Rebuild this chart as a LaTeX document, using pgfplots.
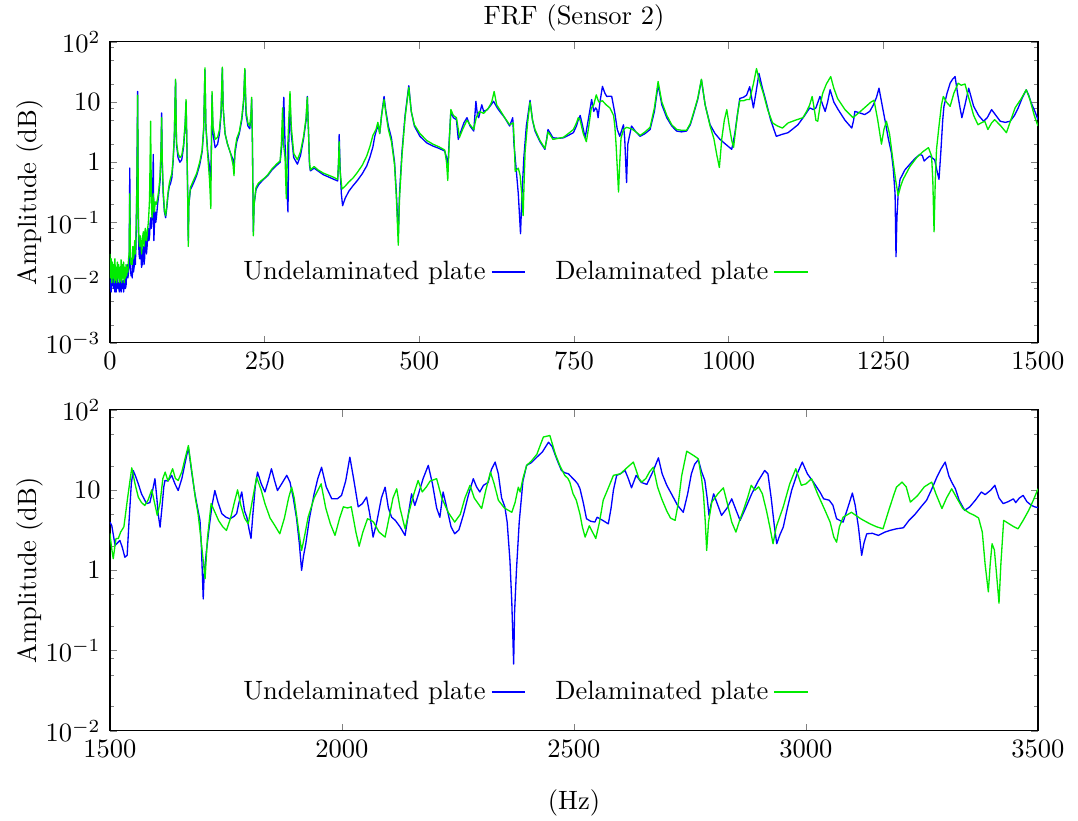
\documentclass[border=0pt]{standalone}
\usepackage{pgfplots}
\pgfplotsset{compat=1.18}
\definecolor{cb}{RGB}{0,0,255}
\definecolor{cg}{RGB}{0,235,0}
\pgfplotsset{
  frf/.style={
    scale only axis, width=350.2pt,
    tick align=inside, xtick pos=both, ytick pos=both,
    major tick length=2.6pt, minor tick length=1.5pt,
    /pgf/number format/1000 sep={},
    every axis plot/.append style={line width=0.5pt, line join=round},
    every axis y label/.style={at={(axis description cs:-0.0862,0.5)},rotate=90,anchor=center},
    every axis x label/.style={at={(axis description cs:0.5,0)},yshift=-27.2pt,anchor=center},
    every axis title/.style={at={(axis description cs:0.5,1)},yshift=9pt,anchor=center},
    ylabel={Amplitude (dB)},
    legend plot pos=right,
    legend cell align=right,
    legend image code/.code={\draw[##1] (0cm,0cm) -- (0.45cm,0cm);},
  }
}
\begin{document}
\begin{tikzpicture}
\begin{axis}[ymode=log, frf, at={(0pt,146.4pt)}, anchor=south west, height=113.6pt,
  xmin=0, xmax=1500, ymin=1e-3, ymax=1e2,
  xtick={0,250,500,750,1000,1250,1500},
  ytick={1e-3,1e-2,1e-1,1,10,100},
  yticklabels={$10^{-3}$,$10^{-2}$,$10^{-1}$,$1$,$10$,$10^{2}$},
  minor ytick={2e-3,5e-3,8e-3,2e-2,5e-2,8e-2,0.2,0.5,0.8,2,5,8,20,50,80},
  title={FRF (Sensor 2)},
  legend style={at={(0.4456,0.235)},anchor=center,draw=none,fill=none,legend columns=2,
    /tikz/every even column/.append style={column sep=9pt}},
]
\addplot[cb] coordinates {
(0,0.012)(1,0.008)(2,0.007)(3,0.013)(4,0.009)(5,0.015)(6,0.008)(7,0.011)(8,0.007)(9,0.012)(10,0.007)(11,0.010)(12,0.013)(13,0.008)(14,0.010)(15,0.007)(16,0.012)(17,0.008)(18,0.007)(19,0.010)(20,0.008)(21,0.011)(22,0.007)(23,0.009)(24,0.012)(25,0.008)(26,0.009)(27,0.014)(28,0.02)(29,0.012)(30,0.015)(31,0.02)(32,0.8)(33,0.02)(34,0.013)(35,0.015)(36,0.012)(37,0.025)(38,0.015)(39,0.018)(40,0.03)(41,0.02)(42,0.04)(43.5,0.5)(44.7,15)(46,0.06)(47,0.03)(48,0.025)(49,0.04)(50,0.03)(51,0.018)(52,0.02)(53,0.035)(54,0.04)(55,0.02)(56,0.025)(57,0.05)(58,0.05)(59,0.03)(60,0.04)(61,0.06)(62,0.08)(63,0.05)(64,0.06)(65,0.1)(66,0.12)(67,0.08)(68,0.1)(69,0.3)(70,1.35)(71,0.05)(72,0.1)(73,0.15)(74,0.1)(75,0.12)(77,0.2)(79,0.3)(81,0.5)(82.5,1.5)(83.5,6.6)(84.5,1)(86,0.3)(88,0.15)(90,0.12)(92,0.18)(94,0.3)(96,0.4)(98,0.45)(100,0.55)(102,1.0)(104,2.5)(106,23)(107.5,2)(110,1.2)(113,1.0)(116,1.1)(119,1.8)(121.5,4)(123,10)(124.5,1.5)(125.5,0.4)(126.6,0.05)(127.5,0.2)(130,0.35)(135,0.45)(140,0.6)(145,0.9)(149,1.5)(151.5,3.5)(153.5,34)(155,4)(158,1.5)(161,0.8)(163,0.5)(164,2)(165,13)(166.5,3)(170,1.75)(174,2)(177,3)(179.5,6)(181.6,36)(183,8)(186,3)(190,2)(195,1.4)(199,1.1)(200.5,0.8)(202,1.4)(205,2.2)(209,3)(213,5)(216,10)(218,34)(220,6)(223,4)(226,3.6)(228,6)(229,11)(230.3,2)(231.7,0.07)(233,0.2)(236,0.35)(240,0.42)(245,0.48)(250,0.54)
(255,0.6)(262,0.75)(270,0.9)(275,1.0)(278,2)(281,12)(283,2)(285,0.6)(287.7,0.15)(289,2)(291,10)(293,3)(297,1.2)(303,0.93)(308,1.3)(313,2.5)(317,5)(319,12.4)(321,3)(322.5,0.9)(324,0.72)(330,0.8)(336,0.72)(345,0.62)(355,0.56)(362,0.52)(368,0.49)(369.5,1.0)(370.5,2.9)(372,0.8)(374,0.3)(376,0.19)(380,0.25)(386,0.33)(393,0.41)(400,0.5)(408,0.65)(415,0.87)(420,1.2)(425,1.8)(428,2.7)(431,3.5)(434,4)(436,3)(439,6)(443,12.4)(446,7)(450,4)(455,2.5)(460,1)(463,0.3)(466,0.06)(468,0.3)(472,1.5)(477,6)(483,18.7)(487,7)(492,4)(501,2.7)(512,2.1)(522,1.86)(532,1.7)(541,1.54)(544,1.2)(546,0.75)(548,2)(551,7)(555,5.5)(560,5.1)(563,2.4)(566,3)(572,4.5)(577,5.5)(582,4)(588,3.3)(591.5,10.3)(594,6)(596,5.5)(601,9)(604,7)(610,7.5)(616,9)(620,10.3)(626,8)(630,7)(638,5.5)(646,4)(651,5.5)(653,2)(656,0.9)(660,0.3)(663.6,0.065)(666,0.3)(669,1.2)(673,4)(679,10.7)(683,5)(687,3.3)(695,2.2)(703,1.64)(706,2.5)(708,3.5)(712,3)(716,2.55)(725,2.5)(733,2.55)(741,2.8)(749,3.1)(754,4)(757,5.1)(760,6)(764,4)(768,2.55)(773,5)(778.5,11)(782,7)(785,8)(787,7.5)(789,5.5)(792,10)(796,18.2)(800,14)(803,12.4)(808,12.5)(811,12.4)(816,6.6)(820,3.5)(824,2.7)(830,4.2)(832,2.5)(835,0.46)(837,2)(843,4)(850,3.2)(857,2.7)(865,3)(873,3.5)(880,7)(886,19.4)(892,9)(900,5.5)(908,4)(916,3.3)(924,3.2)(932,3.3)(938,4.2)(943,6.2)(950,11)(956,23.4)(962,9)(970,4.2)(978,3)(986,2.4)(995,2)(1005,1.64)(1010,3)(1014,6)(1018,11.5)(1024,12)(1029,13)(1034,18)(1037,12)(1040,8)(1044,14)(1049,30)(1054,18)(1061,9.7)(1068,5)(1077,2.7)(1086,2.9)(1096,3.1)(1104,3.6)(1112,4.2)(1122,5.8)(1131,8)(1137,7.5)(1141,8)(1147.6,12.4)(1152,9)(1156,7)(1160,10)(1164,16)(1170,10)(1177,7.5)(1188,5)(1199,3.7)(1202,5)(1204,7)(1212,6.6)(1220,6.2)(1228,7)(1234,9)(1239,12)(1243,17)(1248,9)(1253,4.8)(1258,2.5)(1263,1.44)(1266,0.8)(1269,0.3)(1270.5,0.027)(1272,0.12)(1274,0.3)(1277,0.52)(1285,0.75)(1293,0.93)(1301,1.15)(1309,1.35)(1313,1.3)(1316,1.05)(1320,1.15)(1325,1.27)(1333,1.1)(1337,0.7)(1340,0.52)(1343,1.5)(1346,5)(1348,8.5)(1353,14)(1358,20.6)(1362,24)(1366,26.5)(1370,14)(1374,8)(1377,5.5)(1382,9)(1388,17)(1392,12)(1396,8.5)(1404,6)(1412,4.8)(1418,5.5)(1425,7.5)(1432,6)(1439,4.8)(1447,4.6)(1455,4.8)(1462,6)(1468,8)(1475,12)(1481,16)(1485,13)(1489,9.7)(1495,7)(1500,5.1)
};
\addlegendentry{Undelaminated plate}
\addplot[cg] coordinates {
(0,0.03)(1,0.012)(2,0.025)(3,0.01)(4,0.022)(5,0.012)(6,0.02)(7,0.01)(8,0.025)(9,0.011)(10,0.018)(11,0.01)(12,0.022)(13,0.012)(14,0.02)(15,0.01)(16,0.018)(17,0.011)(18,0.024)(19,0.01)(20,0.02)(21,0.012)(22,0.022)(23,0.01)(24,0.018)(25,0.012)(26,0.02)(27,0.013)(28,0.018)(29,0.015)(30,0.025)(31,0.03)(32,0.3)(33,0.03)(34,0.02)(35,0.025)(36,0.02)(37,0.04)(38,0.025)(39,0.03)(40,0.05)(41,0.03)(42,0.06)(43.5,0.3)(44.7,13)(46,0.1)(47,0.05)(48,0.04)(49,0.06)(50,0.05)(51,0.03)(52,0.04)(53,0.06)(54,0.07)(55,0.04)(56,0.05)(57,0.08)(58,0.07)(59,0.05)(60,0.06)(61,0.08)(62,0.1)(63,0.15)(64,0.25)(65.7,4.8)(67,0.2)(68,0.12)(69,0.15)(70,0.3)(71,0.2)(72,0.15)(73,0.22)(75,0.2)(77,0.25)(79,0.35)(81,0.6)(82.5,1.6)(83.5,5.5)(84.5,1.1)(86,0.35)(88,0.16)(90,0.13)(92,0.2)(94,0.32)(96,0.45)(98,0.55)(100,0.65)(102,1.1)(104,2.7)(106,24)(107.5,2.2)(110,1.4)(113,1.2)(116,1.3)(119,2)(121.5,4.5)(123,11)(124.5,1.5)(125.5,0.3)(126.6,0.04)(127.5,0.2)(130,0.38)(135,0.5)(140,0.65)(145,1.0)(149,1.6)(151.5,3.8)(153.5,37)(155,4)(158,1.3)(161,0.5)(163,0.17)(164,2)(165,15)(166.5,4)(170,2.4)(174,2.6)(177,3.5)(179.5,7)(181.6,38)(183,8)(186,3)(190,2)(195,1.4)(199,0.9)(200.5,0.6)(202,1.6)(205,2.5)(209,3.2)(213,5.5)(216,11)(218,36)(220,7)(223,4.5)(226,4)(228,6.5)(229,12)(230.3,2)(231.7,0.06)(233,0.2)(236,0.38)(240,0.45)(245,0.5)(250,0.55)
(255,0.62)(262,0.78)(270,0.95)(275,1.05)(277,2)(279,8)(280.5,2)(283,1.2)(285,0.25)(287,1.5)(289,5)(291,15)(293,4)(297,1.4)(303,1.1)(308,1.5)(313,2.7)(317,5.5)(319,12)(321,3)(322.5,1.0)(324,0.75)(330,0.85)(336,0.75)(345,0.66)(355,0.6)(362,0.56)(368,0.52)(369.5,1.0)(370.5,2.2)(372,0.7)(375,0.36)(380,0.4)(386,0.47)(393,0.55)(400,0.68)(408,0.9)(415,1.27)(420,1.8)(425,2.8)(430,3.5)(433,4.6)(436,3.0)(439,6)(443,11)(446,6.5)(450,3.5)(455,2.2)(460,0.9)(463,0.25)(466,0.042)(468,0.25)(472,1.3)(477,5.5)(483,17.5)(487,7)(492,4.2)(501,3.0)(512,2.3)(522,2.0)(532,1.8)(541,1.6)(544,1.0)(546,0.5)(548,1.8)(551,7.5)(555,6)(560,5.5)(565,2.6)(570,3.5)(577,5)(582,4.2)(588,3.5)(592,5.5)(597,7)(604,6.5)(612,8)(617,10)(621,15)(625,9)(630,7.5)(638,5.5)(646,4.2)(652,4.5)(654,1.5)(655,0.7)(660,0.8)(663,0.6)(665.5,0.3)(667.8,0.13)(669.5,0.5)(671,1.5)(675,4.5)(679,10)(683,5)(687,3.5)(695,2.3)(703,1.7)(706,2.4)(708,3.2)(712,2.8)(716,2.4)(725,2.5)(733,2.6)(741,3)(749,3.5)(754,4.5)(757,5.5)(760,5)(765,3)(770,2.2)(774,4)(778,8)(782,9)(786,13.2)(790,10)(796,10.5)(802,9)(808,8)(814,6)(816,4)(818,2)(820,0.8)(822,0.32)(824,1)(826,2.5)(830,3.5)(835,3.8)(843,3.6)(850,3.2)(857,2.8)(865,3.2)(873,3.8)(880,8)(886,22)(892,10)(900,6)(908,4.2)(916,3.5)(924,3.4)(932,3.4)(938,4.4)(943,6.5)(950,11.5)(956,24)(962,9)(970,4)(976,2.5)(981,1.3)(985,0.82)(989,2.5)(993,5)(997,7.5)(1001,4)(1005,2.3)(1008,1.77)(1012,4)(1015,7)(1018,10.5)(1024,10.5)(1029,11)(1034,11)(1040,20)(1045,36)(1050,22)(1056,14)(1063,7.5)(1071,4.5)(1079,4)(1087,3.7)(1096,4.5)(1108,5)(1120,5.5)(1126,7)(1131,9)(1135,12.4)(1139,7)(1141,5)(1144,4.8)(1148,9)(1152,14)(1158,20)(1165,26.5)(1170,17)(1176,11.5)(1188,7.5)(1201,5.5)(1213,7)(1225,9)(1230,10)(1235,10.7)(1241,5)(1247,2)(1251,3.5)(1255,4.8)(1260,3)(1265,1.2)(1270,0.5)(1274,0.28)(1278,0.4)(1282,0.52)(1293,0.85)(1304,1.2)(1314,1.5)(1323,1.75)(1328,1.27)(1330,0.5)(1332,0.07)(1334,0.5)(1336,1.64)(1340,4)(1344,9)(1347,12.4)(1352,10)(1358,8.5)(1364,14)(1371,20.6)(1376,19)(1382,20)(1386,14)(1390,10)(1396,6)(1403,4.2)(1408,4.5)(1414,4.8)(1419,3.5)(1425,4.5)(1430,5.1)(1440,4)(1449,3.1)(1456,5)(1463,8)(1472,11)(1481,16)(1487,11)(1494,6)(1500,4)
};
\addlegendentry{Delaminated plate}
\end{axis}
\begin{axis}[ymode=log, frf, at={(0pt,0pt)}, anchor=south west, height=121.1pt,
  xmin=1500, xmax=3500, ymin=1e-2, ymax=1e2,
  xtick={1500,2000,2500,3000,3500},
  ytick={1e-2,1e-1,1,10,100},
  yticklabels={$10^{-2}$,$10^{-1}$,$1$,$10$,$10^{2}$},
  minor ytick={2e-2,5e-2,8e-2,0.2,0.5,0.8,2,5,8,20,50,80},
  xlabel={(Hz)},
  legend style={at={(0.4456,0.1215)},anchor=center,draw=none,fill=none,legend columns=2,
    /tikz/every even column/.append style={column sep=9pt}},
]
\addplot[cb] coordinates {
(1500,4.0)(1504,3.6)(1511,2.05)(1516,2.2)(1521.5,2.36)(1527,1.9)(1532,1.46)(1537,1.54)(1541,4)(1546,12)(1550,17.6)(1555,15)(1561,12)(1568,9)(1575,7.5)(1579,6.8)(1586,7)(1592,10)(1597,13.9)(1601,8)(1604,5)(1608,3.46)(1612,6)(1616,11)(1618.5,13.2)(1625,13)(1633,15.3)(1640,12)(1647,9.9)(1655,14)(1662,22)(1669,34)(1676,17)(1683,9)(1690,5.5)(1694,4.2)(1697,2)(1701,0.44)(1703,0.9)(1708,1.77)(1714,3.5)(1720,6.5)(1726,9.9)(1733,7)(1741,5.1)(1750,4.6)(1758.6,4.4)(1767,4.7)(1773,5.1)(1778,7)(1784,9.5)(1790,5.5)(1795,4.6)(1800,3.2)(1804,2.5)(1808,5)(1813,11)(1818,16.8)(1826,12)(1834,9.5)(1841,13)(1848,18.5)(1855,13)(1861,9.9)(1870,12)(1881,15.3)(1888,12.6)(1895,8)(1902,4.5)(1908,2.2)(1913,1.0)(1917,1.5)(1922,2.15)(1930,4.5)(1940,9)(1948,14)(1956,19.3)(1966,11)(1978,7.8)(1990,7.8)(1999,8.6)(2008,13)(2017,25.8)(2025,14)(2035,6.2)(2044,6.8)(2053,8.2)(2060,5)(2067,2.6)(2075,4)(2085,8)(2093,10.9)(2100,6)(2107,4.6)(2115,4.2)(2125,3.5)(2136,2.73)(2143,5)(2150,9)(2157,6.45)(2165,9)(2175,14)(2186,20.4)(2195,12)(2204,6)(2211,4.6)(2218,9.5)(2226,6)(2235,3.5)(2243,2.86)(2252,3.2)(2262,5)(2272,8.5)(2283,13.9)(2290,11)(2297,9.5)(2305,11.5)(2315,12.5)(2322,18)(2330,22.4)(2337,16)(2344,8)(2351,6.2)(2356,4)(2362,1.33)(2366,0.4)(2370,0.068)(2372,0.3)(2376,1.0)(2382,4)(2390,13)(2398,20.4)(2408,22)(2420,25.8)(2432,30)(2445,39.6)(2453,35)(2460,27)(2466,22)(2473,17.6)(2480,16.5)(2488,16)(2495,14.5)(2502,13.2)(2508,12)(2513,10.4)(2520,7)(2527,4.4)(2536,4.1)(2545,4)(2550,4.6)(2556,4.4)(2565,4.1)(2574,3.8)(2580,6)(2585,10)(2592,15.3)(2600,16)(2610,17.6)(2617,14)(2624,10.7)(2634,15.3)(2645,12.5)(2657,11.8)(2670,17)(2682,25.3)(2690,16)(2700,11.5)(2710,9)(2723,6.5)(2735.5,5.3)(2745,9)(2753,16)(2760,21)(2768,24)(2775,17)(2782,13.2)(2787,8)(2791,4.85)(2795,6.5)(2801,9)(2810,6.5)(2818,4.85)(2830,6)(2840,7.8)(2850,5.5)(2858,4.2)(2870,6)(2883,9)(2897,13)(2911,17.6)(2918,16)(2925,8)(2932,3.5)(2937,2.15)(2944,2.8)(2951,3.46)(2960,6)(2969,9.9)(2981,16)(2992,22.4)(3003,16)(3016,12.6)(3030,9.5)(3038,7.8)(3050,7.5)(3058,6.5)(3066,4.4)(3080,4.0)(3090,6)(3100,9.2)(3106,6.5)(3113,3.5)(3120,1.54)(3125,2.2)(3131,2.86)(3143,2.9)(3156,2.73)(3170,3.0)(3181,3.15)(3195,3.3)(3210,3.4)(3222,4.2)(3235,5)(3248,6.2)(3260,7.5)(3270,10)(3282,14.5)(3290,18)(3300,22.4)(3308,15)(3314,12.6)(3322,10.4)(3330,7.5)(3342,5.6)(3353,6.2)(3365,7.5)(3378,9.5)(3386,8.8)(3398,10)(3407,11.5)(3416,8)(3425,6.8)(3436,7.2)(3447,7.8)(3452,7.0)(3460,8)(3468,8.6)(3476,7.2)(3486,6.45)(3493,6.2)(3500,6.05)
};
\addlegendentry{Undelaminated plate}
\addplot[cg] coordinates {
(1500,2.9)(1503,2)(1507,1.4)(1513,2.5)(1518,2.5)(1523,3.0)(1530,3.5)(1538,8)(1547,19)(1554,12)(1561,8.2)(1568,7)(1575,6.45)(1582,7.5)(1590,10.1)(1596,7)(1602,4.85)(1608,7)(1614,14)(1619,16.8)(1625,13)(1629,15)(1635,18.5)(1641,14)(1647,13.2)(1655,17)(1662,25)(1669,36)(1676,18)(1684,8)(1690,5)(1694,3.15)(1700,1.5)(1705,0.79)(1710,2.5)(1718,6.8)(1725,5.5)(1734,4.2)(1743,3.5)(1751,3.15)(1760,4.5)(1768,7)(1775,10.1)(1782,6.5)(1790,4.5)(1798,3.8)(1806,7)(1816,14.5)(1826,10)(1834,6.8)(1845,4.5)(1855.6,3.6)(1866,2.86)(1876,4.5)(1885,8)(1891.5,10.9)(1897,8)(1903,4.5)(1909,2.5)(1913,1.77)(1920,2.8)(1927,4.6)(1940,8)(1955,12)(1965,6)(1975,3.8)(1985,2.73)(1995,4.5)(2003,6.2)(2012,6)(2020,6.2)(2030,3)(2037,2.0)(2045,3)(2055,4.4)(2063,4.2)(2068,4.0)(2080,3)(2093,2.6)(2103,5)(2110,8)(2118,10.4)(2125,6)(2136,3.3)(2145,5.5)(2155,9)(2164,13.2)(2173,9.5)(2182,11)(2190,13)(2204,13.9)(2215,8)(2229,5.3)(2243,4)(2255,5)(2265,8)(2276,11.5)(2285,8)(2301,5.9)(2310,10)(2320,16.8)(2328,12)(2337,7.5)(2350,6)(2366,5.3)(2373,7)(2380,10.9)(2384,9.5)(2390,14)(2398,20.4)(2408,23)(2420,28)(2434,46)(2448,48)(2460,28)(2470,20)(2480,15.3)(2487,14)(2491,12.6)(2498,9)(2505,7.5)(2513,5)(2518,3.5)(2524,2.6)(2533,3.6)(2540,3)(2547,2.5)(2555,4)(2563,7.5)(2575,11)(2585,15.3)(2600,16)(2614,19)(2628,22.4)(2640,14)(2646,12.6)(2655,14)(2663,17)(2671,19.3)(2680,11)(2689,7.8)(2700,5.5)(2708,4.5)(2718,4.2)(2725,7)(2732,15)(2743,30.6)(2758,27)(2768,24.6)(2775,14)(2779,9)(2783,4)(2786,1.77)(2790,4)(2797,7.1)(2810,9)(2822,10.7)(2830,7)(2840,4)(2849,3.0)(2857,4.2)(2865,5.6)(2874,8)(2882,11.5)(2890,10)(2898,11)(2906,9)(2915,5.5)(2922,3.5)(2929,2.15)(2936,3.5)(2951,6.2)(2965,12)(2978,18.5)(2990,11.5)(3000,12)(3012,13.9)(3025,9)(3041,5.6)(3052,4)(3060,2.6)(3066,2.25)(3072,3.5)(3080,4.6)(3098,5.3)(3118,4.4)(3138,3.8)(3152,3.5)(3166,3.3)(3180,6)(3190,9)(3195,10.9)(3207,12.6)(3216,11)(3225,7.1)(3240,8.5)(3255,11)(3271,12.6)(3280,9)(3293,5.9)(3303,8)(3314,10.4)(3325,8)(3338,5.9)(3352,5.2)(3363,4.85)(3372,4.5)(3380,3)(3386,1.2)(3393,0.54)(3397,1.2)(3401,2.15)(3406,1.8)(3410,1)(3416,0.39)(3420,1.2)(3426,4.2)(3438,3.8)(3448,3.5)(3457,3.3)(3468,4.2)(3480,5.6)(3490,7.5)(3500,10.4)
};
\addlegendentry{Delaminated plate}
\end{axis}
\pgfresetboundingbox
\useasboundingbox (-41.5pt,-34pt) rectangle (365.3pt,275.8pt);
\end{tikzpicture}
\end{document}
